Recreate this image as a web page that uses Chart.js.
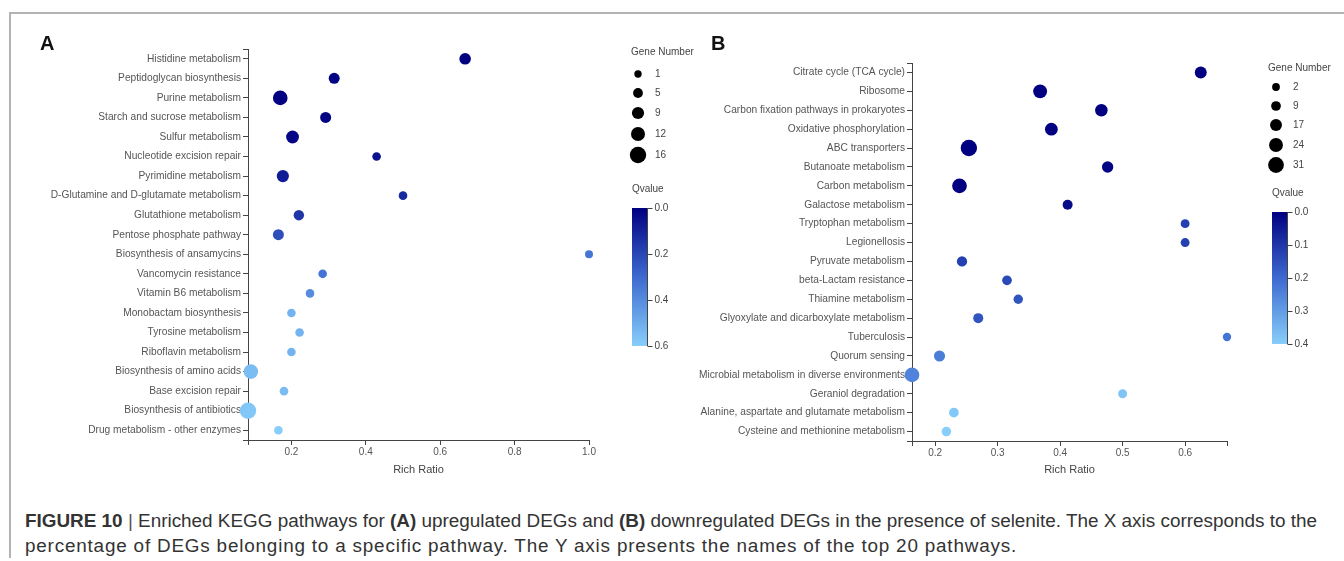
<!DOCTYPE html>
<html><head><meta charset="utf-8">
<script src="https://cdn.jsdelivr.net/npm/chart.js@4.4.0/dist/chart.umd.min.js"></script>
<style>
html,body{margin:0;padding:0;background:#fff;width:1344px;height:561px;overflow:hidden;font-family:"Liberation Sans",Arial,sans-serif;}
#frameTop{position:absolute;left:9px;top:12px;width:1335px;height:2px;background:#b3b3b3;}
#frameLeft{position:absolute;left:9px;top:12px;width:2px;height:546px;background:#b3b3b3;}
.panel{position:absolute;font-weight:bold;font-size:20px;color:#111;line-height:20px;}
#cA{position:absolute;left:0;top:0;}
#cB{position:absolute;left:672px;top:0;}
#caption{position:absolute;left:25px;top:508px;font-size:18.9px;line-height:25px;color:#333;white-space:nowrap;}
</style></head>
<body>
<div id="frameTop"></div><div id="frameLeft"></div>
<canvas id="cA" width="700" height="490"></canvas>
<canvas id="cB" width="672" height="490"></canvas>
<div class="panel" style="left:40px;top:33px;">A</div>
<div class="panel" style="left:711px;top:33px;">B</div>
<div id="caption"><b>FIGURE 10</b> <span style="color:#555">|</span> Enriched KEGG pathways for <b>(A)</b> upregulated DEGs and <b>(B)</b> downregulated DEGs in the presence of selenite. The X axis corresponds to the<br><span style="letter-spacing:0.8px">percentage of DEGs belonging to a specific pathway. The Y axis presents the names of the top 20 pathways.</span></div>
<script>
// ---------- Panel A data ----------
const catsA = ["Histidine metabolism","Peptidoglycan biosynthesis","Purine metabolism","Starch and sucrose metabolism","Sulfur metabolism","Nucleotide excision repair","Pyrimidine metabolism","D-Glutamine and D-glutamate metabolism","Glutathione metabolism","Pentose phosphate pathway","Biosynthesis of ansamycins","Vancomycin resistance","Vitamin B6 metabolism","Monobactam biosynthesis","Tyrosine metabolism","Riboflavin metabolism","Biosynthesis of amino acids","Base excision repair","Biosynthesis of antibiotics","Drug metabolism - other enzymes"];
const richA = [0.667,0.315,0.170,0.292,0.203,0.429,0.177,0.5,0.220,0.165,1.0,0.284,0.25,0.2,0.222,0.2,0.091,0.18,0.0833,0.165];
const genesA = [8,7,13,7,10,3,9,3,6,7,2,3,3,3,3,3,13,3,16,3];
const qA = [0.0,0.01,0.0,0.01,0.02,0.05,0.08,0.12,0.15,0.22,0.33,0.33,0.40,0.52,0.52,0.52,0.55,0.55,0.58,0.60];
const geneLegendA = [1,5,9,12,16];
const qTicksA = [0.0,0.2,0.4,0.6];
const xTicksA = [0.2,0.4,0.6,0.8,1.0];

// ---------- Panel B data ----------
const catsB = ["Citrate cycle (TCA cycle)","Ribosome","Carbon fixation pathways in prokaryotes","Oxidative phosphorylation","ABC transporters","Butanoate metabolism","Carbon metabolism","Galactose metabolism","Tryptophan metabolism","Legionellosis","Pyruvate metabolism","beta-Lactam resistance","Thiamine metabolism","Glyoxylate and dicarboxylate metabolism","Tuberculosis","Quorum sensing","Microbial metabolism in diverse environments","Geraniol degradation","Alanine, aspartate and glutamate metabolism","Cysteine and methionine metabolism"];
const richB = [0.625,0.368,0.466,0.386,0.254,0.476,0.239,0.412,0.6,0.6,0.243,0.315,0.333,0.269,0.667,0.207,0.163,0.5,0.230,0.218];
const genesB = [17,24,19,20,33,15,27,10,6,6,11,9,8,10,4,14,27,6,9,8];
const qB = [0.0,0.0,0.0,0.0,0.0,0.01,0.0,0.02,0.12,0.12,0.12,0.14,0.16,0.16,0.22,0.24,0.25,0.38,0.39,0.40];
const geneLegendB = [2,9,17,24,31];
const qTicksB = [0.0,0.1,0.2,0.3,0.4];
const xTicksB = [0.2,0.3,0.4,0.5,0.6];

// ---------- styling helpers ----------
Chart.defaults.font.family = '"Liberation Sans", Arial, sans-serif';
const STOPS = [[0,[0,0,128]],[0.5,[61,106,208]],[1,[135,206,250]]];
function qColor(q, qmax){
  let t = Math.max(0, Math.min(1, q/qmax));
  for (let i=0;i<STOPS.length-1;i++){
    const [t0,c0]=STOPS[i],[t1,c1]=STOPS[i+1];
    if (t<=t1){ const u=(t-t0)/(t1-t0); const c=c0.map((v,k)=>Math.round(v+(c1[k]-v)*u)); return `rgb(${c[0]},${c[1]},${c[2]})`; }
  }
  return 'rgb(135,206,250)';
}
const rA = g => 3.7 + 0.3*(g-1);
const rB = g => 3.9 + (4/29)*(g-2);

const legendPlugin = {
  id:'bubbleLegend',
  afterDraw(chart, args, o){
    const ctx = chart.ctx;
    ctx.save();
    ctx.font = '10px "Liberation Sans", Arial, sans-serif';
    ctx.fillStyle = '#444';
    ctx.textBaseline = 'middle';
    ctx.textAlign = 'left';
    ctx.fillText('Gene Number', o.titleX, o.titleY);
    o.genes.forEach((g,i)=>{
      ctx.beginPath(); ctx.fillStyle='#000';
      ctx.arc(o.dotX, o.dotYs[i], o.rFn(g), 0, Math.PI*2); ctx.fill();
      ctx.fillStyle='#444'; ctx.fillText(String(g), o.labelX, o.dotYs[i]);
    });
    ctx.fillText('Qvalue', o.qTitleX, o.qTitleY);
    const grad = ctx.createLinearGradient(0,o.barTop,0,o.barBottom);
    STOPS.forEach(([t,c])=>grad.addColorStop(t,`rgb(${c[0]},${c[1]},${c[2]})`));
    ctx.fillStyle = grad;
    ctx.fillRect(o.barX, o.barTop, o.barW, o.barBottom-o.barTop);
    ctx.strokeStyle='#444'; ctx.lineWidth=1;
    const bx = o.barX+o.barW+0.5;
    ctx.beginPath(); ctx.moveTo(bx,o.barTop); ctx.lineTo(bx,o.barBottom); ctx.stroke();
    const qmax = o.qTicks[o.qTicks.length-1];
    o.qTicks.forEach(q=>{
      const y = Math.round(o.barTop + (o.barBottom-o.barTop)*q/qmax)+0.5;
      ctx.beginPath(); ctx.moveTo(bx,y); ctx.lineTo(bx+5,y); ctx.stroke();
      ctx.fillStyle='#444'; ctx.fillText(q.toFixed(1), bx+7, y);
    });
    // outer domain ticks on axes
    const a = chart.chartArea;
    ctx.beginPath();
    ctx.moveTo(a.left, a.top+0.5); ctx.lineTo(a.left-5, a.top+0.5);
    ctx.moveTo(a.left, a.bottom+0.5); ctx.lineTo(a.left-5, a.bottom+0.5);
    ctx.stroke();
    ctx.restore();
  }
};

function makeChart(id, cats, rich, genes, q, qTicks, xTicks, rFn, geom, legendOpts){
  const qmax = qTicks[qTicks.length-1];
  const xMin = Math.min(...rich), xMax = Math.max(...rich);
  const tickVals = Array.from(new Set([xMin, ...xTicks, xMax]));
  return new Chart(document.getElementById(id), {
    type:'bubble',
    data:{ datasets:[{
      data: rich.map((x,i)=>({x:x, y:cats[i], r:rFn(genes[i])})),
      backgroundColor: q.map(v=>qColor(v,qmax)),
      borderWidth:0, clip:false
    }]},
    options:{
      responsive:false, animation:false, events:[],
      layout:{padding:{left:0, top:geom.top, right:geom.right, bottom:geom.bottom}},
      plugins:{legend:{display:false}, tooltip:{enabled:false}, bubbleLegend: legendOpts},
      scales:{
        x:{type:'linear', min:xMin, max:xMax,
          afterBuildTicks: s => { s.ticks = tickVals.map(v=>({value:v})); },
          ticks:{callback:(v)=> xTicks.includes(v) ? v.toFixed(1) : '', font:{size:10}, color:'#555', padding:1, autoSkip:false, maxRotation:0},
          grid:{display:true, drawOnChartArea:false, drawTicks:true, tickLength:5, color:'#444'},
          border:{display:true, color:'#444'},
          title:{display:true, text:'Rich Ratio', font:{size:11}, color:'#444', padding:{top:3,bottom:0}},
          afterFit: s => { s.height = geom.xh; }
        },
        y:{type:'category', labels:cats, offset:true,
          ticks:{font:{size:10.2}, color:'#555', padding:2, autoSkip:false},
          grid:{display:true, drawOnChartArea:false, offset:false, drawTicks:true, tickLength:5, color:'#444'},
          border:{display:true, color:'#444'},
          afterFit: s => { s.width = geom.yw; }
        }
      }
    },
    plugins:[legendPlugin]
  });
}

makeChart('cA', catsA, richA, genesA, qA, qTicksA, xTicksA, rA,
  {top:49, right:700-589, xh:37, bottom:13, yw:248},
  {titleX:631, titleY:52, dotX:638, dotYs:[74,93,113,134,155], labelX:655, rFn:rA, genes:geneLegendA,
   qTitleX:632, qTitleY:189, barX:632, barW:15, barTop:208, barBottom:346, qTicks:qTicksA});

makeChart('cB', catsB, richB, genesB, qB, qTicksB, xTicksB, rB,
  {top:63, right:672-555, xh:36, bottom:13, yw:240},
  {titleX:596, titleY:68, dotX:604, dotYs:[87,106,125,145,165], labelX:621, rFn:rB, genes:geneLegendB,
   qTitleX:600, qTitleY:193, barX:600, barW:15, barTop:212, barBottom:344, qTicks:qTicksB});
</script>
</body></html>
